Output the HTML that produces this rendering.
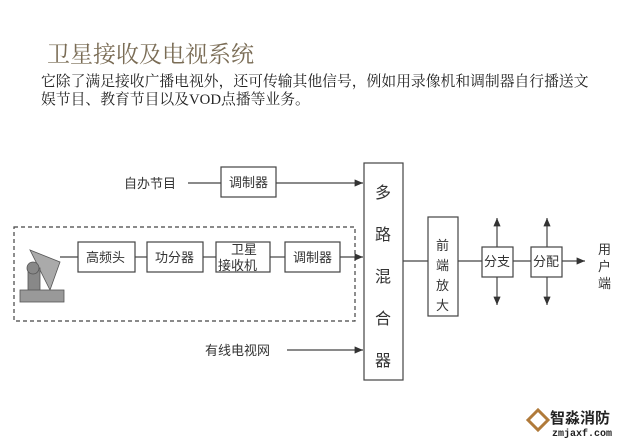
<!DOCTYPE html>
<html><head><meta charset="utf-8"><style>
body{margin:0;background:#fff;width:640px;height:444px;overflow:hidden;position:relative;font-family:"Liberation Serif","Noto Serif CJK SC",serif}
.t{position:absolute;white-space:nowrap}
</style></head><body>
<div class="t" style="left:47px;top:36px;font-size:23px;color:#7a6c55;letter-spacing:0px">卫星接收及电视系统</div>
<div class="t" style="left:41px;top:73px;font-size:14.8px;color:#222;line-height:18px">它除了满足接收广播电视外，还可传输其他信号，例如用录像机和调制器自行播送文<br>娱节目、教育节目以及VOD点播等业务。</div>
<svg width="640" height="444" style="position:absolute;left:0;top:0" font-family="Noto Sans CJK SC, sans-serif" font-size="13" fill="#333">
<defs><marker id="a" markerWidth="7" markerHeight="6" refX="7" refY="3" orient="auto"><path d="M0,0L7,3L0,6z" fill="#333"/></marker></defs>
<g stroke="#444" stroke-width="1.2" fill="none">
<rect x="221" y="167" width="55" height="30"/>
<rect x="14" y="227" width="341" height="94" stroke-dasharray="4,3"/>
<rect x="78" y="242" width="57" height="30"/>
<rect x="147" y="242" width="56" height="30"/>
<rect x="216" y="242" width="54" height="30"/>
<rect x="285" y="242" width="55" height="30"/>
<rect x="364" y="163" width="39" height="217"/>
<rect x="428" y="217" width="30" height="99"/>
<rect x="482" y="247" width="31" height="30"/>
<rect x="531" y="247" width="31" height="30"/>
<line x1="188" y1="183" x2="221" y2="183"/>
<line x1="276" y1="183" x2="363" y2="183" marker-end="url(#a)"/>
<line x1="60" y1="257" x2="78" y2="257"/>
<line x1="135" y1="257" x2="147" y2="257"/>
<line x1="203" y1="257" x2="216" y2="257"/>
<line x1="270" y1="257" x2="285" y2="257"/>
<line x1="340" y1="257" x2="363" y2="257" marker-end="url(#a)"/>
<line x1="287" y1="350" x2="363" y2="350" marker-end="url(#a)"/>
<line x1="403" y1="261" x2="428" y2="261"/>
<line x1="458" y1="261" x2="482" y2="261"/>
<line x1="513" y1="261" x2="531" y2="261"/>
<line x1="562" y1="261" x2="585" y2="261" marker-end="url(#a)"/>
<line x1="497" y1="247" x2="497" y2="218" marker-end="url(#a)"/>
<line x1="497" y1="277" x2="497" y2="305" marker-end="url(#a)"/>
<line x1="547" y1="247" x2="547" y2="218" marker-end="url(#a)"/>
<line x1="547" y1="277" x2="547" y2="305" marker-end="url(#a)"/>
</g>
<g fill="#888" stroke="#555" stroke-width="0.8">
<path d="M30,250 L60,262 L50,290 Z" fill="#aaa"/>
<rect x="28" y="268" width="12" height="26"/>
<circle cx="33" cy="268" r="6"/>
<rect x="20" y="290" width="44" height="12" fill="#999"/>
</g>
<text x="124" y="188">自办节目</text>
<text x="229" y="187">调制器</text>
<text x="86" y="262">高频头</text>
<text x="155" y="262">功分器</text>
<text x="231" y="254">卫星</text>
<text x="218" y="270">接收机</text>
<text x="293" y="262">调制器</text>
<text x="205" y="355">有线电视网</text>
<g font-size="16"><text x="375" y="198">多</text><text x="375" y="240">路</text><text x="375" y="282">混</text><text x="375" y="324">合</text><text x="375" y="366">器</text></g>
<text x="436" y="250">前</text><text x="436" y="270">端</text><text x="436" y="290">放</text><text x="436" y="310">大</text>
<text x="484" y="266">分支</text>
<text x="533" y="266">分配</text>
<text x="598" y="254">用</text><text x="598" y="271">户</text><text x="598" y="288">端</text>
<path d="M528,420 L538,410 L548,420 L538,430 Z" fill="none" stroke="#b07a3a" stroke-width="3"/>
<text x="550" y="423" font-size="15" font-weight="bold" fill="#222">智淼消防</text>
<text x="552" y="436" font-size="10" font-weight="bold" fill="#222" font-family="Liberation Mono, monospace">zmjaxf.com</text>
</svg>
</body></html>
